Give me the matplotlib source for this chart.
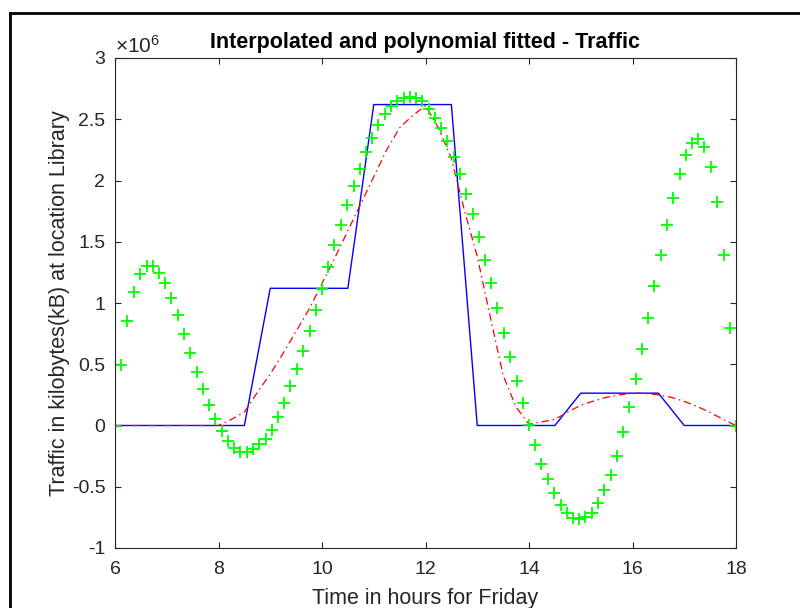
import numpy as np
import matplotlib
matplotlib.use("Agg")
import matplotlib.pyplot as plt
from matplotlib.lines import Line2D

plt.rcParams['font.family'] = ['Liberation Sans', 'DejaVu Sans']
plt.rcParams['mathtext.fontset'] = 'custom'
plt.rcParams['mathtext.rm'] = 'Liberation Sans'

# Measured traffic, half-hourly (millions of kB)
t_data = [6, 6.5, 7, 7.5, 8, 8.5, 9, 9.5, 10, 10.5, 11, 11.5, 12, 12.5,
          13, 13.5, 14, 14.5, 15, 15.5, 16, 16.5, 17, 17.5, 18]
traffic_data = [0, 0, 0, 0, 0, 0, 1.12, 1.12, 1.12, 1.12, 2.62, 2.62, 2.62, 2.62,
                0, 0, 0, 0, 0.264, 0.264, 0.264, 0.264, 0, 0, 0]

# Interpolated curve (millions of kB)
t_interp = [6.0, 6.25, 6.5, 6.75, 7.0, 7.25, 7.5, 7.75, 8.0, 8.25, 8.5, 8.75,
            9.0, 9.25, 9.5, 9.75, 10.0, 10.25, 10.5, 10.75, 11.0, 11.25, 11.5, 11.75,
            12.0, 12.25, 12.5, 12.75, 13.0, 13.25, 13.5, 13.75, 14.0, 14.25, 14.5, 14.75,
            15.0, 15.25, 15.5, 15.75, 16.0, 16.25, 16.5, 16.75, 17.0, 17.25, 17.5, 17.75, 18.0]
traffic_interp = [0, 0, 0, 0, 0, 0, 0, 0, 0, 0.05, 0.11, 0.27,
                  0.42, 0.59, 0.77, 0.95, 1.16, 1.37, 1.59, 1.81, 2.03, 2.25, 2.43, 2.53,
                  2.61, 2.43, 2.18, 1.76, 1.38, 0.89, 0.41, 0.15, 0.01, 0.03, 0.05, 0.11,
                  0.165, 0.2, 0.23, 0.25, 0.264, 0.262, 0.25, 0.23, 0.197, 0.155, 0.107, 0.05, 0]

# Polynomial fit samples (millions of kB)
t_fit = [6.00, 6.12, 6.24, 6.36, 6.48, 6.61, 6.73, 6.85, 6.97, 7.09,
         7.21, 7.33, 7.45, 7.58, 7.70, 7.82, 7.94, 8.06, 8.18, 8.30,
         8.42, 8.55, 8.67, 8.79, 8.91, 9.03, 9.15, 9.27, 9.39, 9.52,
         9.64, 9.76, 9.88, 10.00, 10.12, 10.24, 10.36, 10.48, 10.61, 10.73,
         10.85, 10.97, 11.09, 11.21, 11.33, 11.45, 11.58, 11.70, 11.82, 11.94,
         12.06, 12.18, 12.30, 12.42, 12.55, 12.67, 12.79, 12.91, 13.03, 13.15,
         13.27, 13.39, 13.52, 13.64, 13.76, 13.88, 14.00, 14.12, 14.24, 14.36,
         14.48, 14.61, 14.73, 14.85, 14.97, 15.09, 15.21, 15.33, 15.45, 15.58,
         15.70, 15.82, 15.94, 16.06, 16.18, 16.30, 16.42, 16.55, 16.67, 16.79,
         16.91, 17.03, 17.15, 17.27, 17.39, 17.52, 17.64, 17.76, 17.88, 18.00]
traffic_fit = [0.0, 0.495, 0.85, 1.09, 1.24, 1.305, 1.305, 1.245, 1.16, 1.04,
               0.90, 0.75, 0.59, 0.44, 0.30, 0.17, 0.055, -0.047, -0.13, -0.185,
               -0.218, -0.218, -0.19, -0.15, -0.11, -0.035, 0.073, 0.18, 0.32, 0.46,
               0.61, 0.775, 0.945, 1.115, 1.29, 1.47, 1.64, 1.80, 1.955, 2.095,
               2.23, 2.345, 2.45, 2.54, 2.605, 2.65, 2.675, 2.685, 2.675, 2.645,
               2.585, 2.51, 2.43, 2.32, 2.19, 2.05, 1.89, 1.725, 1.54, 1.35,
               1.16, 0.96, 0.757, 0.563, 0.367, 0.18, 0.006, -0.158, -0.313, -0.44,
               -0.553, -0.647, -0.713, -0.757, -0.762, -0.748, -0.713, -0.634, -0.53, -0.40,
               -0.245, -0.054, 0.155, 0.38, 0.627, 0.88, 1.14, 1.395, 1.635, 1.86,
               2.057, 2.21, 2.31, 2.335, 2.275, 2.11, 1.825, 1.395, 0.795, 0.0]

x_ticks = [6, 8, 10, 12, 14, 16, 18]
y_ticks = [-1, -0.5, 0, 0.5, 1, 1.5, 2, 2.5, 3]
y_tick_labels = ['-1', '-0.5', '0', '0.5', '1', '1.5', '2', '2.5', '3']
scale = 1e6

fig = plt.figure(figsize=(8.0, 6.08), dpi=100)
ax = fig.add_axes([115/800, 1 - 548/608, (736-115)/800, (548-58)/608])

ax.plot(t_data, np.array(traffic_data) * scale, color=(0, 0, 1), lw=1.0)
ax.plot(t_interp, np.array(traffic_interp) * scale, color=(1, 0, 0), lw=0.9,
        dashes=(6, 3, 1.2, 3))
ax.plot(t_fit, np.array(traffic_fit) * scale, linestyle='none', marker='+',
        color=(0, 1, 0), markersize=8, markeredgewidth=1.3)

ax.set_xlim(6, 18)
ax.set_ylim(-1 * scale, 3 * scale)
ax.set_xticks(x_ticks)
ax.set_xticklabels([str(v) for v in x_ticks])
ax.set_yticks([v * scale for v in y_ticks])
ax.set_yticklabels(y_tick_labels)

axcol = (0.15, 0.15, 0.15)
for sp in ax.spines.values():
    sp.set_color(axcol)
    sp.set_linewidth(0.8)
ax.tick_params(direction='in', length=4.5, width=0.8, colors=axcol,
               labelsize=14, top=True, right=True)
ax.tick_params(axis='x', pad=9)
ax.tick_params(axis='y', pad=7)

ax.set_title('Interpolated and polynomial fitted - Traffic', fontsize=15.5,
             fontweight='bold', pad=7, color='black')
ax.set_xlabel('Time in hours for Friday', fontsize=15.5, color=axcol, va='top')
ax.set_ylabel('Traffic in kilobytes(kB) at location Library', fontsize=15.5, color=axcol)
ax.xaxis.set_label_coords(0.5, -0.082)
ax.yaxis.set_label_coords(-0.072, 0.5)

ax.text(0.0, 1 + 5/490, r'$\times\mathregular{10^{6}}$', transform=ax.transAxes,
        fontsize=15, color=axcol, ha='left', va='baseline')

# outer frame (top and left edges)
fig.add_artist(Line2D([9.5/800, 9.5/800], [0, 1 - 13/608], transform=fig.transFigure,
                      color='black', lw=2.0))
fig.add_artist(Line2D([9.5/800, 1], [1 - 13/608, 1 - 13/608], transform=fig.transFigure,
                      color='black', lw=2.0))

fig.savefig('out.png', dpi=100)
